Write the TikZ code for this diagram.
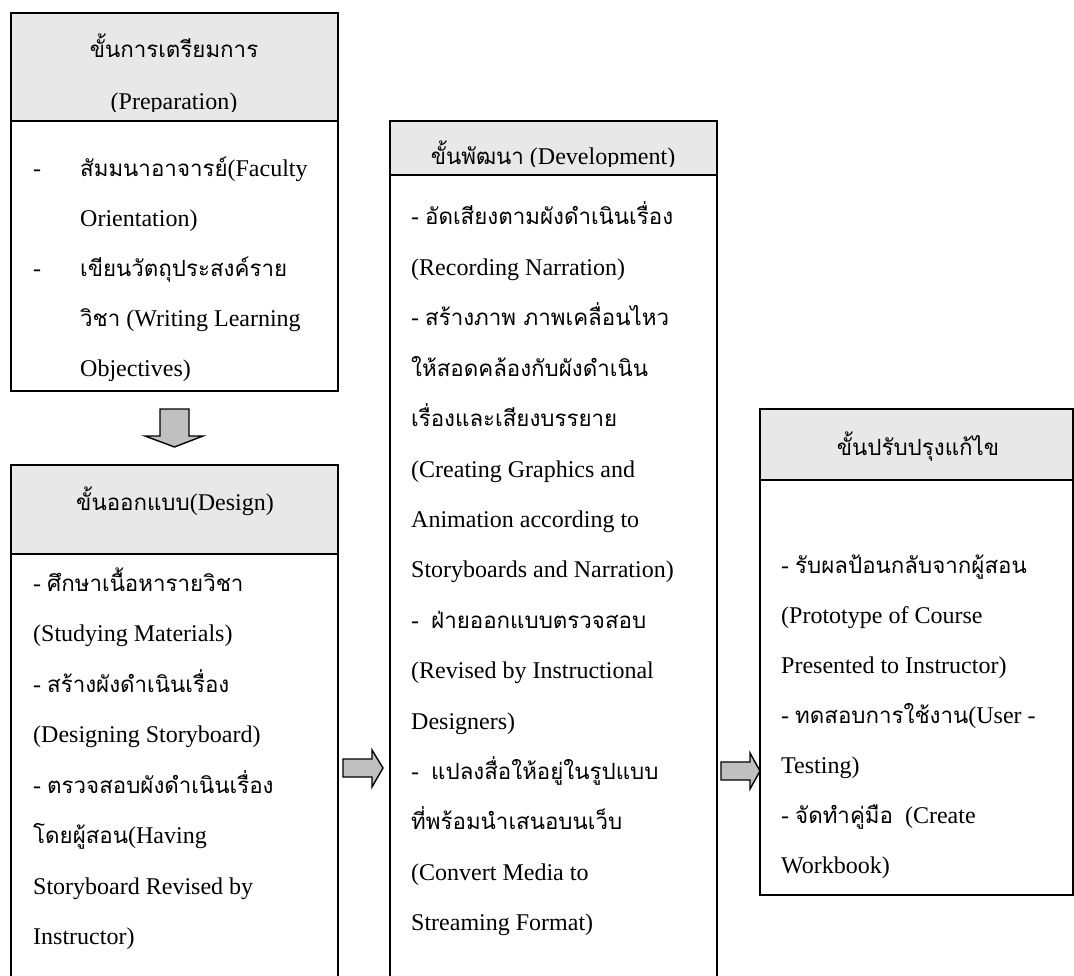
\documentclass[tikz,border=0pt]{standalone}
\usepackage{fontspec}
\setmainfont{Liberation Serif}
\newfontfamily\thaifont[Script=Thai,Scale=0.93]{Loma}
\newcommand\tx[1]{{\thaifont #1}}
\definecolor{hdrgray}{HTML}{E8E8E8}
\definecolor{arrgray}{HTML}{C0C0C0}
\tikzset{
  boxline/.style={draw=black, line width=1.7pt},
  hdr/.style={fill=hdrgray},
  blockarrow/.style={draw=black, line width=1.4pt, fill=arrgray, line join=miter},
  txt/.style={anchor=base west, inner sep=0pt, font=\fontsize{24}{24}\selectfont},
  htxt/.style={anchor=base, inner sep=0pt, font=\fontsize{24}{24}\selectfont},
}
\begin{document}
\begin{tikzpicture}[x=1pt, y=-1pt]
\useasboundingbox (0,0) rectangle (1074,976);
\clip (0,0) rectangle (1074,976);
% ---------- box 1: preparation ----------
\fill[hdr] (11,13) rectangle (338,121);
\draw[boxline] (11,13) rectangle (338,391);
\draw[boxline] (11,121) -- (338,121);
\begin{scope}
  \clip (11,13) rectangle (338,112);
  \node[htxt] (h1a) at (174,58) {\tx{ขั้นการเตรียมการ}};
  \node[htxt] (h1b) at (174,110) {(Preparation)};
\end{scope}
\node[txt] (d1a) at (33,177) {-};
\node[txt] (t1a) at (80,177) {\tx{สัมมนาอาจารย์}(Faculty};
\node[txt] (t1b) at (80,227) {Orientation)};
\node[txt] (d1b) at (33,277) {-};
\node[txt] (t1c) at (80,277) {\tx{เขียนวัตถุประสงค์ราย}};
\node[txt] (t1d) at (80,327) {\tx{วิชา} (Writing Learning};
\node[txt] (t1e) at (80,377) {Objectives)};
% down arrow
\draw[blockarrow] (160,409) -- (189,409) -- (189,436) -- (203,436) -- (174.5,447) -- (145,436) -- (160,436) -- cycle;
% ---------- box 2: design ----------
\fill[hdr] (11,465) rectangle (338,554);
\draw[boxline] (11,1000) -- (11,465) -- (338,465) -- (338,1000);
\draw[boxline] (11,554) -- (338,554);
\node[htxt] (h2) at (175,510) {\tx{ขั้นออกแบบ}(Design)};
\node[txt] (t2a) at (33,591) {- \tx{ศึกษาเนื้อหารายวิชา}};
\node[txt] (t2b) at (33,641.5) {(Studying Materials)};
\node[txt] (t2c) at (33,692) {- \tx{สร้างผังดำเนินเรื่อง}};
\node[txt] (t2d) at (33,742.5) {(Designing Storyboard)};
\node[txt] (t2e) at (33,793) {- \tx{ตรวจสอบผังดำเนินเรื่อง}};
\node[txt] (t2f) at (33,843.5) {\tx{โดยผู้สอน}(Having};
\node[txt] (t2g) at (33,894) {Storyboard Revised by};
\node[txt] (t2h) at (33,944.5) {Instructor)};
% arrow 1
\draw[blockarrow] (343,759) -- (372,759) -- (372,750) -- (383,768) -- (372,787) -- (372,777) -- (343,777) -- cycle;
% ---------- box 3: development ----------
\fill[hdr] (390,121) rectangle (717,175);
\draw[boxline] (390,1000) -- (390,121) -- (717,121) -- (717,1000);
\draw[boxline] (390,175) -- (717,175);
\begin{scope}
  \clip (390,121) rectangle (717,167);
  \node[htxt] (h3) at (553,165) {\tx{ขั้นพัฒนา} (Development)};
\end{scope}
\node[txt] (t3a) at (411,225) {- \tx{อัดเสียงตามผังดำเนินเรื่อง}};
\node[txt] (t3b) at (411,275.4) {(Recording Narration)};
\node[txt] (t3c) at (411,325.8) {- \tx{สร้างภาพ ภาพเคลื่อนไหว}};
\node[txt] (t3d) at (411,376.2) {\tx{ให้สอดคล้องกับผังดำเนิน}};
\node[txt] (t3e) at (411,426.6) {\tx{เรื่องและเสียงบรรยาย}};
\node[txt] (t3f) at (411,477) {(Creating Graphics and};
\node[txt] (t3g) at (411,527.4) {Animation according to};
\node[txt] (t3h) at (411,577.8) {Storyboards and Narration)};
\node[txt] (t3i) at (411,628.2) {-\ \ \tx{ฝ่ายออกแบบตรวจสอบ}};
\node[txt] (t3j) at (411,678.6) {(Revised by Instructional};
\node[txt] (t3k) at (411,729) {Designers)};
\node[txt] (t3l) at (411,779.4) {-\ \ \tx{แปลงสื่อให้อยู่ในรูปแบบ}};
\node[txt] (t3m) at (411,829.8) {\tx{ที่พร้อมนำเสนอบนเว็บ}};
\node[txt] (t3n) at (411,880.2) {(Convert Media to};
\node[txt] (t3o) at (411,930.6) {Streaming Format)};
% arrow 2
\draw[blockarrow] (721,762) -- (750,762) -- (750,753) -- (760,771) -- (750,789) -- (750,780) -- (721,780) -- cycle;
% ---------- box 4: revision ----------
\fill[hdr] (760,409) rectangle (1073,480);
\draw[boxline] (760,409) rectangle (1073,895);
\draw[boxline] (760,480) -- (1073,480);
\node[htxt] (h4) at (918,455) {\tx{ขั้นปรับปรุงแก้ไข}};
\node[txt] (t4a) at (781,573) {- \tx{รับผลป้อนกลับจากผู้สอน}};
\node[txt] (t4b) at (781,623) {(Prototype of Course};
\node[txt] (t4c) at (781,673) {Presented to Instructor)};
\node[txt] (t4d) at (781,723) {- \tx{ทดสอบการใช้งาน}(User -};
\node[txt] (t4e) at (781,773) {Testing)};
\node[txt] (t4f) at (781,823) {- \tx{จัดทำคู่มือ}\ \ (Create};
\node[txt] (t4g) at (781,873) {Workbook)};
\end{tikzpicture}
\end{document}
